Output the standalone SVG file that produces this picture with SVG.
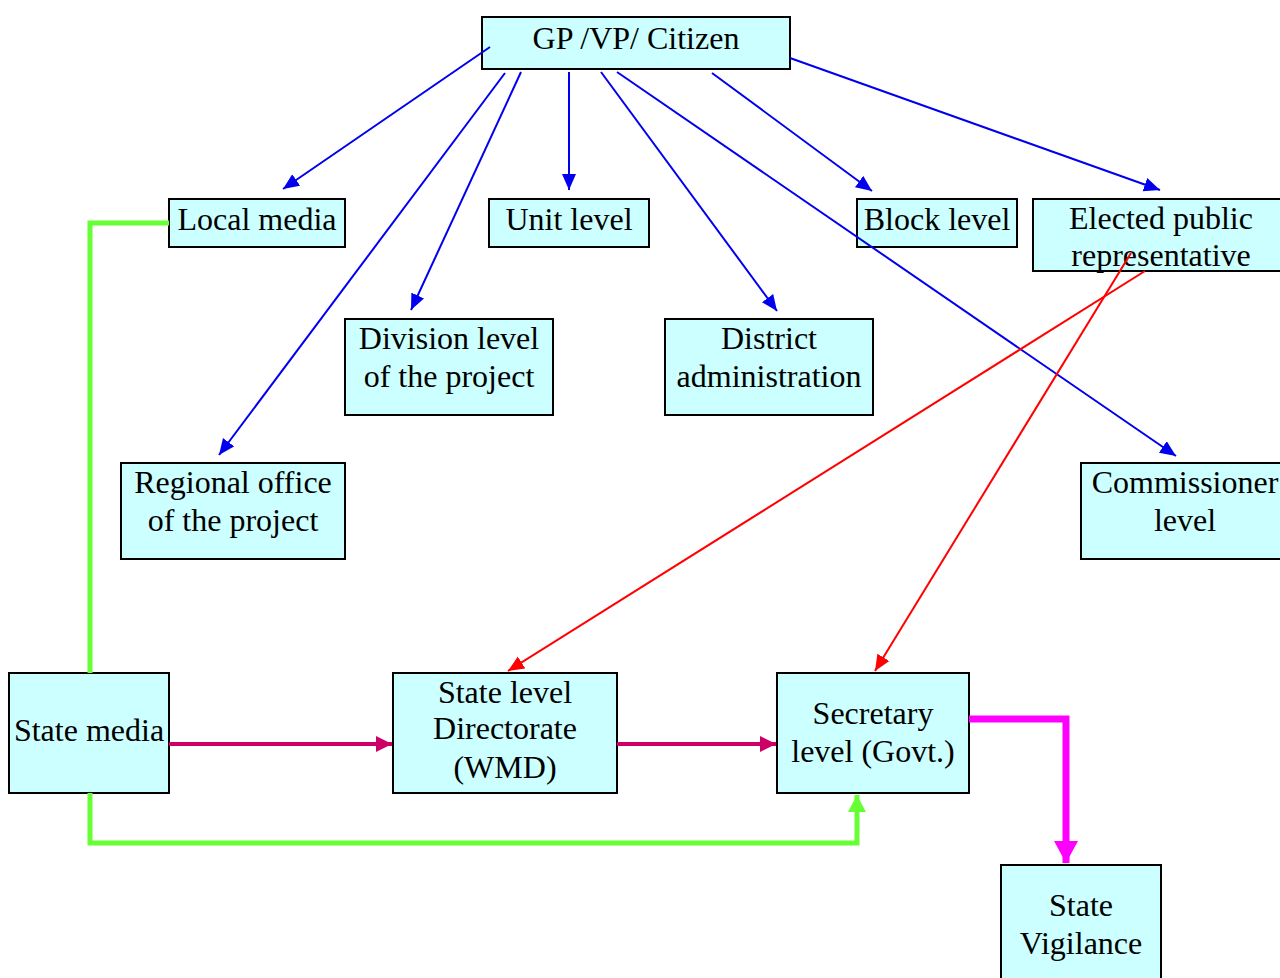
<svg xmlns="http://www.w3.org/2000/svg" width="1280" height="978" viewBox="0 0 1280 978">
<style>
.box{fill:#ccffff;stroke:#000;stroke-width:2}
text{font-family:'Liberation Serif','Times New Roman',Tinos,serif;font-size:32px;fill:#000;text-anchor:middle}
.b{stroke:#0000ee;stroke-width:2;fill:none}
.r{stroke:#ff0000;stroke-width:2;fill:none}
.c{stroke:#cc0066;stroke-width:4;fill:none}
.g{stroke:#66ff33;stroke-width:5;fill:none}
.m{stroke:#ff00ff;stroke-width:7;fill:none}
</style>
<defs>
<marker id="ab" markerUnits="userSpaceOnUse" markerWidth="20" markerHeight="20" refX="16" refY="7" orient="auto"><path d="M0,0 L16,7 L0,14 Z" fill="#0000ee"/></marker>
<marker id="ar" markerUnits="userSpaceOnUse" markerWidth="20" markerHeight="20" refX="16" refY="7" orient="auto"><path d="M0,0 L16,7 L0,14 Z" fill="#ff0000"/></marker>
<marker id="ac" markerUnits="userSpaceOnUse" markerWidth="20" markerHeight="20" refX="16" refY="8" orient="auto"><path d="M0,0 L16,8 L0,16 Z" fill="#cc0066"/></marker>
<marker id="ag" markerUnits="userSpaceOnUse" markerWidth="22" markerHeight="22" refX="17" refY="9" orient="auto"><path d="M0,0 L17,9 L0,18 Z" fill="#66ff33"/></marker>
<marker id="am" markerUnits="userSpaceOnUse" markerWidth="26" markerHeight="26" refX="22" refY="12" orient="auto"><path d="M0,0 L22,12 L0,24 Z" fill="#ff00ff"/></marker>
</defs>
<rect width="1280" height="978" fill="#fff"/>
<g id="nodes">
<g id="gp"><rect class="box" x="482" y="17" width="308" height="52"/><text x="636" y="49">GP /VP/ Citizen</text></g>
<g id="local"><rect class="box" x="169" y="199" width="176" height="48"/><text x="257" y="230">Local media</text></g>
<g id="unit"><rect class="box" x="489" y="199" width="160" height="48"/><text x="569" y="230">Unit level</text></g>
<g id="block"><rect class="box" x="857" y="199" width="160" height="48"/><text x="937" y="230">Block level</text></g>
<g id="elected"><rect class="box" x="1033" y="199" width="252" height="72"/><text x="1161" y="229">Elected public</text><text x="1161" y="266">representative</text></g>
<g id="division"><rect class="box" x="345" y="319" width="208" height="96"/><text x="449" y="349">Division level</text><text x="449" y="387">of the project</text></g>
<g id="district"><rect class="box" x="665" y="319" width="208" height="96"/><text x="769" y="349">District</text><text x="769" y="387">administration</text></g>
<g id="regional"><rect class="box" x="121" y="463" width="224" height="96"/><text x="233" y="493">Regional office</text><text x="233" y="531">of the project</text></g>
<g id="commissioner"><rect class="box" x="1081" y="463" width="204" height="96"/><text x="1185" y="493">Commissioner</text><text x="1185" y="531">level</text></g>
<g id="statemedia"><rect class="box" x="9" y="673" width="160" height="120"/><text x="89" y="741">State media</text></g>
<g id="directorate"><rect class="box" x="393" y="673" width="224" height="120"/><text x="505" y="703">State level</text><text x="505" y="739">Directorate</text><text x="505" y="778">(WMD)</text></g>
<g id="secretary"><rect class="box" x="777" y="673" width="192" height="120"/><text x="873" y="724">Secretary</text><text x="873" y="762">level (Govt.)</text></g>
<g id="vigilance"><rect class="box" x="1001" y="865" width="160" height="125"/><text x="1081" y="916">State</text><text x="1081" y="954">Vigilance</text></g>
</g>
<g id="connectors">
<line class="b" x1="490" y1="47" x2="283" y2="189" marker-end="url(#ab)"/>
<line class="b" x1="505" y1="73" x2="219" y2="455" marker-end="url(#ab)"/>
<line class="b" x1="521" y1="72" x2="411" y2="310" marker-end="url(#ab)"/>
<line class="b" x1="569" y1="72" x2="569" y2="190" marker-end="url(#ab)"/>
<line class="b" x1="601" y1="72" x2="777" y2="311" marker-end="url(#ab)"/>
<line class="b" x1="617" y1="72" x2="1176" y2="456" marker-end="url(#ab)"/>
<line class="b" x1="712" y1="73" x2="872" y2="191" marker-end="url(#ab)"/>
<line class="b" x1="790" y1="58" x2="1160" y2="190" marker-end="url(#ab)"/>
<line class="r" x1="1145" y1="271" x2="508" y2="671" marker-end="url(#ar)"/>
<line class="r" x1="1131" y1="253" x2="875" y2="671" marker-end="url(#ar)"/>
<line class="c" x1="169" y1="744" x2="392" y2="744" marker-end="url(#ac)"/>
<line class="c" x1="617" y1="744" x2="776" y2="744" marker-end="url(#ac)"/>
<polyline class="g" points="169,223 90,223 90,673"/>
<polyline class="g" points="90,793 90,843 857,843 857,795" marker-end="url(#ag)"/>
<polyline class="m" points="969,719 1066,719 1066,863" marker-end="url(#am)"/>
</g>
</svg>
